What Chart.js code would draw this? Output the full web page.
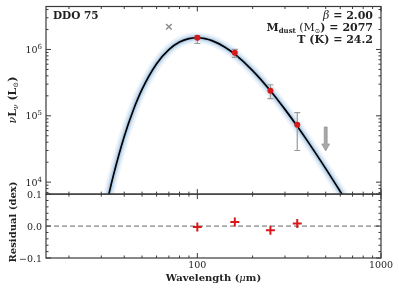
<!DOCTYPE html>
<html>
<head>
<meta charset="utf-8">
<script src="https://cdn.jsdelivr.net/npm/chart.js@4.4.1/dist/chart.umd.min.js"></script>
<style>
  html, body { margin: 0; padding: 0; background: #fff; }
  canvas { display: block; }
</style>
</head>
<body>
<canvas id="sedChart" width="399" height="292"></canvas>
<script>
// model SED (wavelength in micron, nuLnu in Lsun)
const modelWave = [30, 33, 35, 40, 45, 50, 60, 70, 80, 90, 100, 110, 120, 140, 160, 200, 250, 300, 350, 400, 500, 600, 700];
const modelLum = [1940, 6600, 13000, 48900, 125800, 250500, 608700, 994000, 1290000, 1455000, 1500000, 1455000, 1357000, 1101000, 849000, 481000, 239000, 125000, 69600, 40800, 16000, 7230, 3630];

// measured points with error bars
const obsWave = [100, 160, 250, 350];
const obsLum = [1.5e6, 8.9e5, 2.39e5, 7.3e4];
const obsLow = [1.23e6, 7.6e5, 1.82e5, 3.0e4];
const obsHigh = [1.62e6, 1.0e6, 2.94e5, 1.12e5];
const residuals = [-0.003, 0.013, -0.013, 0.008];

// excluded point and upper limit
const excludedWave = [70];
const excludedLum = [2.2e6];
const limitWave = [500];
const limitLum = [6.8e4];

// ticks
const xMajor = [100, 1000];
const xMajorLabels = ['100', '1000'];
const xMinor = [20, 30, 40, 50, 60, 70, 80, 90, 200, 300, 400, 500, 600, 700, 800, 900];
const yMajor = [1e4, 1e5, 1e6];
const yMinor = [7e3, 8e3, 9e3, 2e4, 3e4, 4e4, 5e4, 6e4, 7e4, 8e4, 9e4,
    2e5, 3e5, 4e5, 5e5, 6e5, 7e5, 8e5, 9e5, 2e6, 3e6, 4e6];
const resMajor = [-0.1, 0, 0.1];
const resMajorLabels = ['\u22120.1', '0.0', '0.1'];
const resMinor = [-0.08, -0.06, -0.04, -0.02, 0.02, 0.04, 0.06, 0.08];

const SERIF = '"DejaVu Serif", "Liberation Serif", serif';
const RED = '#d7191c';

function pts(xs, ys) {
    return xs.map((x, i) => ({ x: x, y: ys[i] }));
}

// draw a run of text pieces (for sub/superscripts)
function drawRich(ctx, pieces, x, y, align) {
    let total = 0;
    pieces.forEach(p => {
        ctx.font = `${p.italic ? 'italic ' : ''}${p.bold ? 'bold ' : ''}${p.size}px ${SERIF}`;
        p.w = ctx.measureText(p.t).width;
        total += p.w;
    });
    let cx = x;
    if (align === 'right') cx = x - total;
    if (align === 'center') cx = x - total / 2;
    ctx.textAlign = 'left';
    ctx.textBaseline = 'alphabetic';
    pieces.forEach(p => {
        ctx.font = `${p.italic ? 'italic ' : ''}${p.bold ? 'bold ' : ''}${p.size}px ${SERIF}`;
        ctx.fillText(p.t, cx, y + (p.dy || 0));
        cx += p.w;
    });
}

function drawErrorBars(chart) {
    const ctx = chart.ctx;
    const x = chart.scales.x, y = chart.scales.y;
    ctx.save();
    ctx.strokeStyle = '#9a9a9a';
    ctx.lineWidth = 1.2;
    obsWave.forEach((w, i) => {
        const px = x.getPixelForValue(w);
        const lo = y.getPixelForValue(obsLow[i]);
        const hi = y.getPixelForValue(obsHigh[i]);
        ctx.beginPath();
        ctx.moveTo(px, lo); ctx.lineTo(px, hi);
        ctx.moveTo(px - 3, lo); ctx.lineTo(px + 3, lo);
        ctx.moveTo(px - 3, hi); ctx.lineTo(px + 3, hi);
        ctx.stroke();
    });
    ctx.restore();
}

const sedDecor = {
    id: 'sedDecor',
    beforeDatasetsDraw(chart) {
        const ctx = chart.ctx;
        const x = chart.scales.x, r = chart.scales.yres;
        const py = r.getPixelForValue(0);
        ctx.save();
        ctx.strokeStyle = '#666';
        ctx.lineWidth = 1;
        ctx.setLineDash([5, 3]);
        ctx.beginPath();
        ctx.moveTo(x.left, py); ctx.lineTo(x.right, py);
        ctx.stroke();
        ctx.restore();
    },
    beforeDatasetDraw(chart, args) {
        const ds = chart.data.datasets[args.index];
        if (ds.label === 'Observed') drawErrorBars(chart);
        if (ds.yAxisID === 'y') {
            const ctx = chart.ctx;
            const x = chart.scales.x, y = chart.scales.y;
            ctx.save();
            ctx.beginPath();
            ctx.rect(x.left, y.top, x.right - x.left, y.bottom - y.top);
            ctx.clip();
        }
    },
    afterDatasetDraw(chart, args) {
        const ds = chart.data.datasets[args.index];
        if (ds.yAxisID === 'y') chart.ctx.restore();
    },
    afterDraw(chart) {
        const ctx = chart.ctx;
        const x = chart.scales.x, y = chart.scales.y, r = chart.scales.yres;

        // upper limit arrow
        ctx.save();
        ctx.fillStyle = '#a8a8a8';
        ctx.strokeStyle = '#8c8c8c';
        ctx.lineWidth = 0.6;
        limitWave.forEach((w, i) => {
            const px = x.getPixelForValue(w);
            const py = y.getPixelForValue(limitLum[i]);
            const len = 24, head = 7;
            ctx.beginPath();
            ctx.moveTo(px - 1.5, py);
            ctx.lineTo(px + 1.5, py);
            ctx.lineTo(px + 1.5, py + len - head);
            ctx.lineTo(px + 4, py + len - head);
            ctx.lineTo(px, py + len);
            ctx.lineTo(px - 4, py + len - head);
            ctx.lineTo(px - 1.5, py + len - head);
            ctx.closePath();
            ctx.fill();
            ctx.stroke();
        });
        ctx.restore();

        // frames
        ctx.save();
        ctx.strokeStyle = '#3a3a3a';
        ctx.lineWidth = 1.2;
        ctx.strokeRect(x.left, y.top, x.right - x.left, y.bottom - y.top);
        ctx.strokeRect(x.left, r.top, x.right - x.left, r.bottom - r.top);

        ctx.lineWidth = 1;
        ctx.beginPath();
        const xTick = (vals, len) => {
            vals.forEach(v => {
                const px = x.getPixelForValue(v);
                [[y.top, 1], [y.bottom, -1], [r.top, 1], [r.bottom, -1]].forEach(([e, d]) => {
                    ctx.moveTo(px, e); ctx.lineTo(px, e + d * len);
                });
            });
        };
        const yTick = (scale, vals, len) => {
            vals.forEach(v => {
                const py = scale.getPixelForValue(v);
                ctx.moveTo(x.left, py); ctx.lineTo(x.left + len, py);
                ctx.moveTo(x.right, py); ctx.lineTo(x.right - len, py);
            });
        };
        xTick(xMajor, 5);
        xTick(xMinor, 2.5);
        yTick(y, yMajor, 5);
        yTick(y, yMinor, 2.5);
        yTick(r, resMajor, 5);
        yTick(r, resMinor, 2.5);
        ctx.stroke();
        ctx.restore();

        // tick labels
        ctx.save();
        ctx.fillStyle = '#222';
        yMajor.forEach(v => {
            const py = y.getPixelForValue(v);
            const ex = String(Math.round(Math.log10(v)));
            drawRich(ctx, [
                { t: '10', size: 9.5 },
                { t: ex, size: 7, dy: -4 }
            ], x.left - 4, py + 3.5, 'right');
        });
        resMajor.forEach((v, i) => {
            const py = r.getPixelForValue(v);
            drawRich(ctx, [{ t: resMajorLabels[i], size: 9.5 }], x.left - 4, py + 3.5, 'right');
        });
        xMajor.forEach((v, i) => {
            const px = x.getPixelForValue(v);
            drawRich(ctx, [{ t: xMajorLabels[i], size: 9.5 }], px, 268, 'center');
        });

        // axis titles
        drawRich(ctx, [
            { t: 'Wavelength (', size: 10, bold: true },
            { t: '\u03bc', size: 10, italic: true },
            { t: 'm)', size: 10, bold: true }
        ], (x.left + x.right) / 2, 281, 'center');

        ctx.save();
        ctx.translate(15.5, 100);
        ctx.rotate(-Math.PI / 2);
        drawRich(ctx, [
            { t: '\u03bd', size: 11, italic: true },
            { t: 'L', size: 11, bold: true },
            { t: '\u03bd', size: 7.5, italic: true, dy: 2.5 },
            { t: ' (L', size: 11, bold: true },
            { t: '\u2299', size: 7, dy: 2.5 },
            { t: ')', size: 11, bold: true }
        ], 0, 0, 'center');
        ctx.restore();

        ctx.save();
        ctx.translate(15.5, 222);
        ctx.rotate(-Math.PI / 2);
        drawRich(ctx, [{ t: 'Residual (dex)', size: 10, bold: true }], 0, 0, 'center');
        ctx.restore();

        // annotations
        drawRich(ctx, [{ t: 'DDO 75', size: 10.5, bold: true }], x.left + 7, 19, 'left');
        const rx = x.right - 8;
        drawRich(ctx, [
            { t: '\u03b2', size: 11, italic: true },
            { t: ' = 2.00', size: 11, bold: true }
        ], rx, 18.5, 'right');
        drawRich(ctx, [
            { t: 'M', size: 11, bold: true },
            { t: 'dust', size: 7, bold: true, dy: 2 },
            { t: ' (M', size: 11 },
            { t: '\u2299', size: 6.5, dy: 2 },
            { t: ') = 2077', size: 11, bold: true }
        ], rx, 30.5, 'right');
        drawRich(ctx, [{ t: 'T (K) = 24.2', size: 11, bold: true }], rx, 42.5, 'right');
        ctx.restore();
    }
};

const modelData = pts(modelWave, modelLum);

new Chart(document.getElementById('sedChart'), {
    type: 'scatter',
    data: {
        datasets: [
            {
                label: 'Observed',
                data: pts(obsWave, obsLum),
                yAxisID: 'y',
                order: 0,
                pointRadius: 3,
                pointBackgroundColor: RED,
                pointBorderColor: RED,
                pointBorderWidth: 0
            },
            {
                label: 'Residual',
                data: pts(obsWave, residuals),
                yAxisID: 'yres',
                order: 0,
                pointStyle: 'cross',
                pointRadius: 4.5,
                pointBorderColor: RED,
                pointBorderWidth: 2
            },
            {
                label: 'Excluded',
                data: pts(excludedWave, excludedLum),
                yAxisID: 'y',
                order: 1,
                pointStyle: 'crossRot',
                pointRadius: 4,
                pointBorderColor: '#8a8a8a',
                pointBorderWidth: 1.4
            },
            {
                label: 'Model',
                type: 'line',
                data: modelData,
                yAxisID: 'y',
                order: 2,
                borderColor: '#000',
                borderWidth: 1.7,
                pointRadius: 0,
                cubicInterpolationMode: 'monotone'
            },
            {
                label: 'Band inner',
                type: 'line',
                data: modelData,
                yAxisID: 'y',
                order: 3,
                borderColor: 'rgba(125, 170, 212, 0.4)',
                borderWidth: 4,
                pointRadius: 0,
                cubicInterpolationMode: 'monotone'
            },
            {
                label: 'Band mid',
                type: 'line',
                data: modelData,
                yAxisID: 'y',
                order: 4,
                borderColor: 'rgba(150, 190, 225, 0.3)',
                borderWidth: 7,
                pointRadius: 0,
                cubicInterpolationMode: 'monotone'
            },
            {
                label: 'Band outer',
                type: 'line',
                data: modelData,
                yAxisID: 'y',
                order: 5,
                borderColor: 'rgba(185, 212, 235, 0.28)',
                borderWidth: 11,
                pointRadius: 0,
                cubicInterpolationMode: 'monotone'
            }
        ]
    },
    options: {
        responsive: false,
        animation: false,
        devicePixelRatio: 1,
        layout: { padding: { left: 46, right: 18, top: 6, bottom: 34 } },
        plugins: { legend: { display: false }, tooltip: { enabled: false } },
        scales: {
            x: { type: 'logarithmic', min: 15, max: 1000, display: false },
            y: { type: 'logarithmic', min: 6600, max: 4.44e6, display: false,
                 position: 'left', stack: 'panels', stackWeight: 188, weight: 1 },
            yres: { type: 'linear', min: -0.1, max: 0.1, display: false,
                    position: 'left', stack: 'panels', stackWeight: 64, weight: 0 }
        }
    },
    plugins: [sedDecor]
});
</script>
</body>
</html>
